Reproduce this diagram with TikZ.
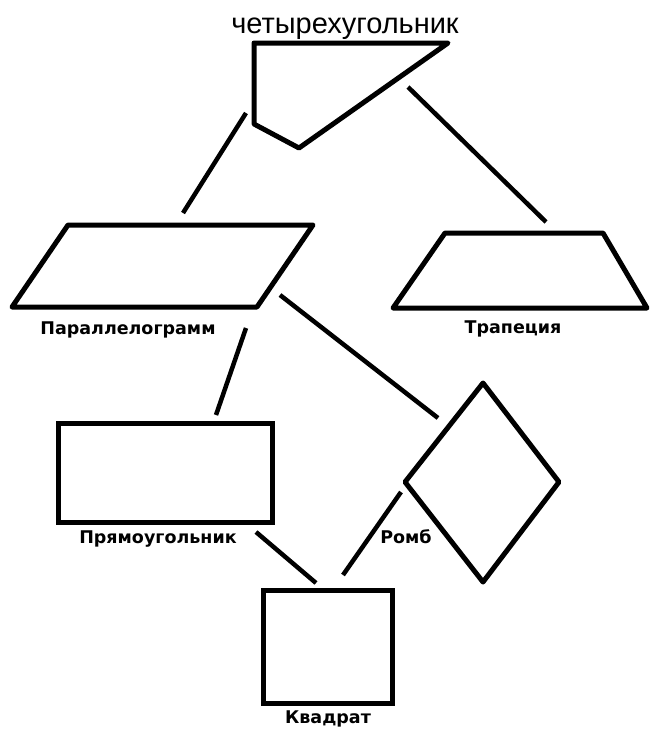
\documentclass[tikz,border=0pt]{standalone}
\usepackage{fontspec}
\setmainfont{Liberation Sans}
\newfontfamily\labelfont{DejaVu Sans}

\begin{document}
\begin{tikzpicture}[x=1pt,y=-1pt,
  figure/.style={draw,line width=5pt,line join=round},
  link/.style={line width=4.5pt},
  caption/.style={anchor=base,inner sep=0pt,font=\labelfont\bfseries\fontsize{17.5}{17.5}\selectfont}]
\useasboundingbox (0,0) rectangle (650,729);

% figures
\draw[figure] (254,43) -- (448,43) -- (299,148) -- (254,124) -- cycle;
\draw[figure] (68,225) -- (313,225) -- (257,307) -- (12,307) -- cycle;
\draw[figure] (445,233) -- (603,233) -- (647,308) -- (393,308) -- cycle;
\draw[figure,line join=miter] (58,423) rectangle (272,522);
\draw[figure] (483,383) -- (559,482) -- (483,582) -- (405,482) -- cycle;
\draw[figure,line join=miter] (263,590) rectangle (392,703);

% names
\node[anchor=base,inner sep=0pt,font=\fontsize{29}{29}\selectfont] (quad) at (345,33) {четырехугольник};
\node[caption] (para) at (128,334) {Параллелограмм};
\node[caption] (trap) at (513,333) {Трапеция};
\node[caption] (rect) at (158,543) {Прямоугольник};
\node[caption] (romb) at (406,543) {Ромб};
\node[caption] (sq) at (328,723) {Квадрат};

% ends of the links
\coordinate (q1) at (246,113);
\coordinate (q2) at (408,87);
\coordinate (p1) at (183,213);
\coordinate (p2) at (246,328);
\coordinate (p3) at (280,295);
\coordinate (t1) at (546,222);
\coordinate (r1) at (216,415);
\coordinate (r2) at (256,532);
\coordinate (d1) at (438,418);
\coordinate (d2) at (401,492);
\coordinate (s1) at (316,583);
\coordinate (s2) at (343,575);

\draw[link] (q1) -- (p1);
\draw[link] (q2) -- (t1);
\draw[link] (p2) -- (r1);
\draw[link] (p3) -- (d1);
\draw[link] (r2) -- (s1);
\draw[link] (d2) -- (s2);
\end{tikzpicture}
\end{document}
